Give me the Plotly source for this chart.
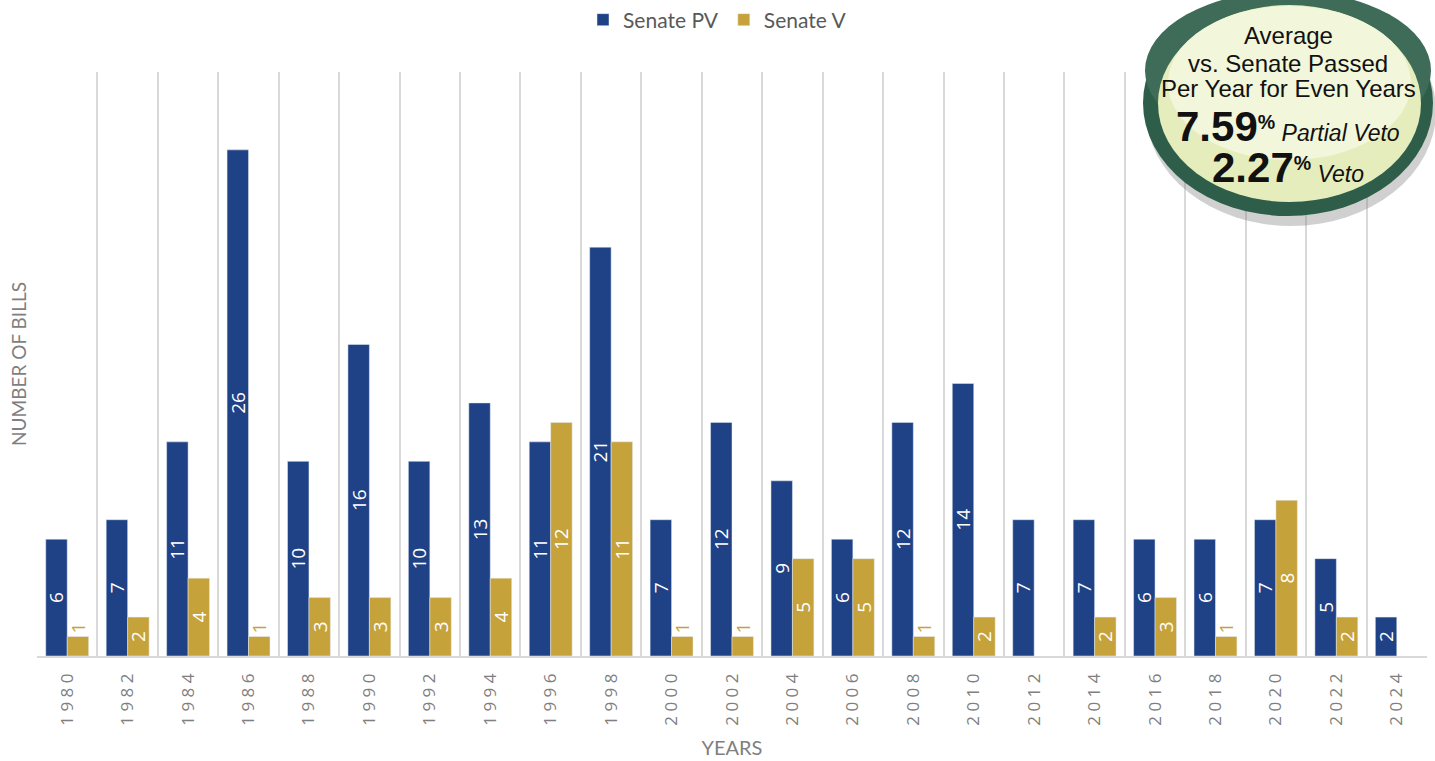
import plotly.graph_objects as go

years = [1980, 1982, 1984, 1986, 1988, 1990, 1992, 1994, 1996, 1998, 2000, 2002,
         2004, 2006, 2008, 2010, 2012, 2014, 2016, 2018, 2020, 2022, 2024]
senate_pv = [6, 7, 11, 26, 10, 16, 10, 13, 11, 21, 7, 12, 9, 6, 12, 14, 7, 7, 6, 6, 7, 5, 2]
senate_v = [1, 2, 4, 1, 3, 3, 3, 4, 12, 11, 1, 1, 5, 5, 1, 2, None, 2, 3, 1, 8, 2, None]
tick_labels = ["\u00a0".join(str(y)) for y in years]
cats = [str(y) for y in years]

BLUE = "#1F4185"
GOLD = "#C6A23B"
GRAY = "#7F7F7F"

W, H = 1435, 761
ML, MR, MT, MB = 37, 8, 72, 105
PW, PH = W - ML - MR, H - MT - MB


def px(x):
    return (x - ML) / PW


def py(y):
    return (H - MB - y) / PH


def pos(v):
    if v is None:
        return "none"
    return "outside" if v <= 1 else "inside"


LABEL_FONT = "Open Sans"

fig = go.Figure()
fig.add_trace(go.Bar(
    name="Senate PV", x=cats, y=senate_pv, marker_color=BLUE,
    text=[str(v) for v in senate_pv], textposition=[pos(v) for v in senate_pv],
    textangle=-90, insidetextanchor="middle", constraintext="none",
    insidetextfont=dict(color="white", size=19, family=LABEL_FONT),
    outsidetextfont=dict(color=BLUE, size=19, family=LABEL_FONT),
    cliponaxis=False,
))
fig.add_trace(go.Bar(
    name="Senate V", x=cats, y=senate_v, marker_color=GOLD,
    text=["" if v is None else str(v) for v in senate_v],
    textposition=[pos(v) for v in senate_v],
    textangle=-90, insidetextanchor="middle", constraintext="none",
    insidetextfont=dict(color="white", size=19, family=LABEL_FONT),
    outsidetextfont=dict(color=GOLD, size=19, family=LABEL_FONT),
    cliponaxis=False,
))

fig.update_layout(
    width=W, height=H,
    margin=dict(l=ML, r=MR, t=MT, b=MB, autoexpand=False),
    plot_bgcolor="white", paper_bgcolor="white",
    barmode="group", bargap=0.29, bargroupgap=0,
    font=dict(family="Lato", color=GRAY),
    legend=dict(orientation="h", xref="container", yref="container",
                x=0.5, xanchor="center", y=1 - 20 / H, yanchor="middle",
                font=dict(size=21, color="#595959", family="Lato"),
                itemwidth=30),
    xaxis=dict(
        type="category", tickson="boundaries", showgrid=True,
        gridcolor="#D9D9D9", gridwidth=1.5, ticks="",
        showline=True, linecolor="#D9D9D9", linewidth=1.5,
        tickmode="array", tickvals=cats, ticktext=tick_labels,
        tickangle=-90, tickfont=dict(size=17, color=GRAY, family="Open Sans"),
        ticklabelstandoff=9,
        title=dict(text="YEARS", font=dict(size=20, color=GRAY, family="Lato"), standoff=16),
        automargin=False,
    ),
    yaxis=dict(
        range=[0, 30], showgrid=False, showticklabels=False, zeroline=False,
        showline=False, ticks="",
        title=dict(text="NUMBER OF BILLS", font=dict(size=19, color=GRAY, family="Lato"), standoff=4),
        automargin=False,
    ),
)

# Badge
shapes = [
    dict(type="circle", xref="paper", yref="paper",
         x0=px(1146), x1=px(1436), y0=py(-4), y1=py(226),
         fillcolor="rgba(120,120,120,0.35)", line=dict(width=0), layer="above"),
    dict(type="circle", xref="paper", yref="paper",
         x0=px(1143), x1=px(1433), y0=py(-10), y1=py(216),
         fillcolor="#2E5E49", line=dict(width=0), layer="above"),
    dict(type="circle", xref="paper", yref="paper",
         x0=px(1145), x1=px(1431), y0=py(-9), y1=py(150),
         fillcolor="#3E6C58", line=dict(width=0), layer="above"),
    dict(type="circle", xref="paper", yref="paper",
         x0=px(1158), x1=px(1421), y0=py(5), y1=py(202),
         fillcolor="#E6EDBC", line=dict(width=0), layer="above"),
    dict(type="circle", xref="paper", yref="paper",
         x0=px(1168), x1=px(1411), y0=py(6), y1=py(160),
         fillcolor="#F2F6DA", line=dict(width=0), layer="above"),
]
fig.update_layout(shapes=shapes)

lines = [
    ("Average", 36),
    ("vs. Senate Passed", 63),
    ("Per Year for Even Years", 89),
]
for t, y in lines:
    fig.add_annotation(text=t, xref="paper", yref="paper", x=px(1288), y=py(y),
                       xanchor="center", yanchor="middle", showarrow=False,
                       font=dict(size=24, color="#111111", family="Liberation Sans"))

fig.add_annotation(
    text="<b><span style='font-size:42px'>7.59</span><span style='font-size:28px'><sup>%</sup></span></b> <i>Partial Veto</i>",
    xref="paper", yref="paper", x=px(1288), y=py(126), xanchor="center", yanchor="middle",
    showarrow=False, font=dict(size=23, color="#111111", family="Liberation Sans"))
fig.add_annotation(
    text="<b><span style='font-size:42px'>2.27</span><span style='font-size:28px'><sup>%</sup></span></b> <i>Veto</i>",
    xref="paper", yref="paper", x=px(1288), y=py(167), xanchor="center", yanchor="middle",
    showarrow=False, font=dict(size=23, color="#111111", family="Liberation Sans"))

fig.write_html("out.html", config={"displayModeBar": False},
               post_script="document.body.style.margin='0px';")
